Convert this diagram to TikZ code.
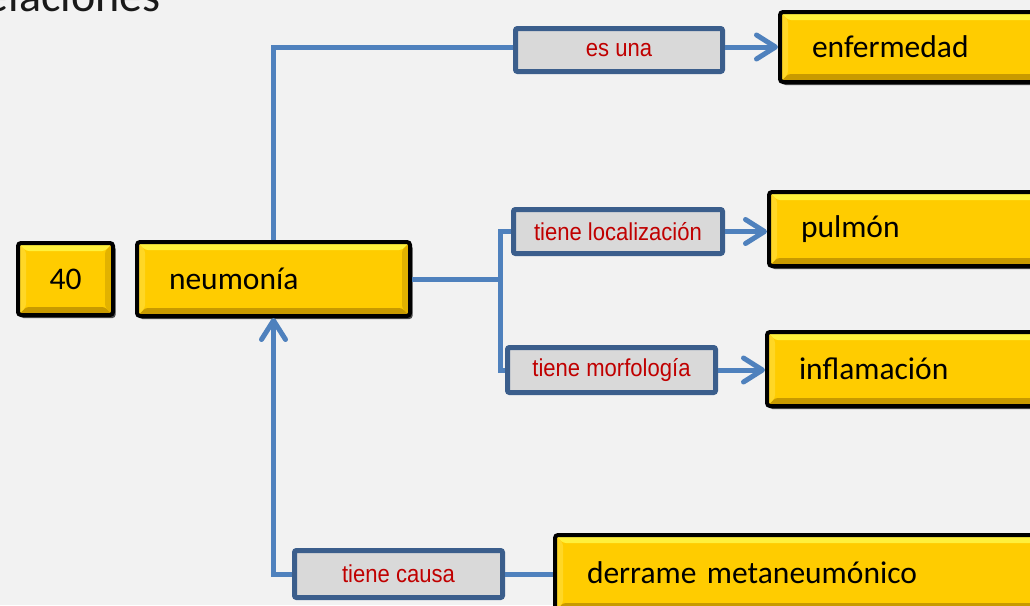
\documentclass[tikz,border=0pt]{standalone}
\usepackage{fontspec}
\setmainfont{Carlito}
\newfontfamily\lblfont[FakeStretch=0.9]{Liberation Sans}
\usetikzlibrary{arrows.meta,calc}
\definecolor{bg}{HTML}{F2F2F2}
\definecolor{gold}{HTML}{FFCC00}
\definecolor{goldlt}{HTML}{FFF03C}
\definecolor{golddk}{HTML}{C89A00}
\definecolor{goldmd}{HTML}{E2B200}
\definecolor{goldlf}{HTML}{FFD726}
\definecolor{lblfill}{HTML}{D9D9D9}
\definecolor{lbldraw}{HTML}{3B5E8C}
\definecolor{lbltext}{HTML}{C00000}
\definecolor{conn}{HTML}{4F81BD}
\tikzset{
  concept/.style={draw=black, line width=4pt, rounded corners=3pt, fill=gold,
    inner xsep=32pt, inner ysep=0pt, font=\fontsize{31.5}{36}\selectfont,
    text=black, align=left,
    preaction={fill=black!70, transform canvas={shift={(2.5pt,-3pt)}}},
    path picture={
      \fill[goldlt] (path picture bounding box.north west) -- (path picture bounding box.north east)
        -- ([shift={(-8pt,-8pt)}]path picture bounding box.north east)
        -- ([shift={(8pt,-8pt)}]path picture bounding box.north west) -- cycle;
      \fill[golddk] (path picture bounding box.south west) -- (path picture bounding box.south east)
        -- ([shift={(-8pt,8pt)}]path picture bounding box.south east)
        -- ([shift={(8pt,8pt)}]path picture bounding box.south west) -- cycle;
      \fill[goldmd] (path picture bounding box.north east) -- (path picture bounding box.south east)
        -- ([shift={(-8pt,8pt)}]path picture bounding box.south east)
        -- ([shift={(-8pt,-8pt)}]path picture bounding box.north east) -- cycle;
      \fill[goldlf] (path picture bounding box.north west) -- (path picture bounding box.south west)
        -- ([shift={(8pt,8pt)}]path picture bounding box.south west)
        -- ([shift={(8pt,-8pt)}]path picture bounding box.north west) -- cycle;
    }},
  relbox/.style={draw=lbldraw, line width=5pt, rounded corners=2pt, fill=lblfill,
    font=\lblfont\fontsize{24.5}{28}\selectfont, text=lbltext, inner sep=0pt},
  link/.style={draw=conn, line width=5pt},
  tip/.style={-{Straight Barb[length=19pt,width=24pt,round]}},
}
\begin{document}
\begin{tikzpicture}[x=1pt,y=-1pt]
\useasboundingbox (0,0) rectangle (1030,605);
\clip (0,0) rectangle (1030,605);
\fill[bg] (0,0) rectangle (1030,605);

\node[anchor=base east, font=\fontsize{46}{50}\selectfont, text=black!90] (title) at (164,11) {Relaciones};

% concept boxes
\node[concept, inner xsep=0pt, align=center, minimum width=95pt, minimum height=72pt] (n40) at (65.5,279) {40};
\node[concept, text width=209pt, minimum height=74pt] (neu) at (273.5,279) {neumonía};
\node[concept, text width=236pt, minimum height=70pt] (enf) at (930,47) {enfermedad};
\node[concept, text width=247pt, minimum height=74pt] (pul) at (924.5,229) {pulmón};
\node[concept, text width=249pt, minimum height=74pt] (inf) at (923.5,369) {inflamación};
\node[concept, text width=461pt, minimum height=76pt] (der) at (817.5,573) {derrame metaneumónico};

% relation boxes
\node[relbox, minimum width=207pt, minimum height=43pt] (esuna) at (619,50) {es una};
\node[relbox, minimum width=209pt, minimum height=44pt] (loc) at (618,231.5) {tiene localización};
\node[relbox, minimum width=208pt, minimum height=45pt] (mor) at (611.5,370) {tiene morfología};
\node[relbox, minimum width=208pt, minimum height=47pt] (cau) at (398.5,574) {tiene causa};

% connectors
\coordinate (jn) at (500,279);
\draw[link] (neu.north) |- ([yshift=3pt]esuna.west);
\draw[link,tip] ([yshift=3pt]esuna.east) -- ([yshift=3pt]esuna.east -| enf.west);
\draw[link] (neu.east) -- (jn);
\draw[link] (jn) |- (loc.west);
\draw[link] (jn) |- (mor.west);
\draw[link,tip] (loc.east) -- (loc.east -| pul.west);
\draw[link,tip] (mor.east) -- (mor.east -| inf.west);
\draw[link] (cau.east) -- (cau.east -| der.west);
\draw[link,tip] (cau.west) -| (neu.south);
\end{tikzpicture}
\end{document}
